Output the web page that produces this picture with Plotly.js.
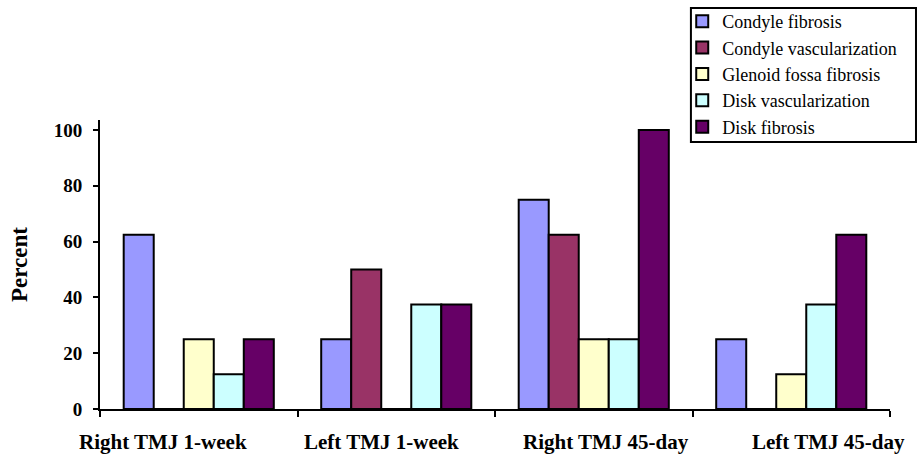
<!DOCTYPE html>
<html>
<head>
<meta charset="utf-8">
<script src="https://cdn.plot.ly/plotly-3.0.1.min.js"></script>
<style>html,body{margin:0;padding:0;background:#fff;}#chart{width:918px;height:457px;}</style>
</head>
<body>
<div id="chart"></div>
<script>
const categories = ["Right TMJ 1-week", "Left TMJ 1-week", "Right TMJ 45-day", "Left TMJ 45-day"];
const seriesNames = ["Condyle fibrosis", "Condyle vascularization", "Glenoid fossa fibrosis", "Disk vascularization", "Disk fibrosis"];
const condyleFibrosis = [62.5, 25, 75, 25];
const condyleVascularization = [0, 50, 62.5, 0];
const glenoidFossaFibrosis = [25, 0, 25, 12.5];
const diskVascularization = [12.5, 37.5, 25, 37.5];
const diskFibrosis = [25, 37.5, 100, 62.5];
const seriesValues = [condyleFibrosis, condyleVascularization, glenoidFossaFibrosis, diskVascularization, diskFibrosis];
const colors = ["#9999FF", "#993366", "#FFFFCC", "#CCFFFF", "#660066"];
const yTicks = [0, 20, 40, 60, 80, 100];
const labelPositions = [0.0797, 0.3557, 0.641, 0.922];

const font = "Liberation Serif, Times New Roman, serif";

const traces = seriesNames.map((name, i) => ({
  type: "bar",
  name: name,
  x: categories,
  y: seriesValues[i],
  marker: {color: colors[i], line: {color: "#000", width: 2}},
  hoverinfo: "skip"
}));

const annotations = categories.map((c, i) => ({
  text: "<b>" + c + "</b>",
  xref: "paper", yref: "paper",
  x: labelPositions[i], y: -0.114,
  xanchor: "center", yanchor: "middle",
  showarrow: false,
  font: {family: font, size: 21, color: "#000"}
}));

const layout = {
  width: 918, height: 457,
  margin: {l: 100, r: 28, t: 120, b: 48, autoexpand: false},
  paper_bgcolor: "#fff", plot_bgcolor: "#fff",
  barmode: "group",
  bargap: 0.24,
  bargroupgap: 0,
  showlegend: true,
  legend: {
    x: 0.737, y: 1.405, xanchor: "left", yanchor: "top",
    borderwidth: 0, bgcolor: "rgba(0,0,0,0)",
    traceorder: "normal",
    font: {family: font, size: 18, color: "#000"}
  },
  shapes: [{
    type: "rect", xref: "paper", yref: "paper",
    x0: 0.748, x1: 1.0329, y0: 0.9239, y1: 1.3875,
    line: {color: "#000", width: 2}, fillcolor: "#fff", layer: "above"
  }],
  xaxis: {
    type: "category",
    showline: true, linecolor: "#000", linewidth: 2,
    ticks: "outside", tickson: "boundaries", ticklen: 6, tickwidth: 2, tickcolor: "#000",
    showticklabels: false, showgrid: false, zeroline: false, fixedrange: true
  },
  yaxis: {
    range: [0, 103.6],
    tickvals: yTicks, ticktext: yTicks.map(v => "<b>" + v + "</b>"),
    showline: true, linecolor: "#000", linewidth: 2,
    ticks: "outside", ticklen: 5, tickwidth: 2, tickcolor: "#000",
    ticklabelstandoff: 7,
    showgrid: false, zeroline: false,
    tickfont: {family: font, size: 19, color: "#000"},
    title: {text: "<b>Percent</b>", font: {family: font, size: 23, color: "#000"}, standoff: 20}
  },
  annotations: annotations
};

Plotly.newPlot("chart", traces, layout, {displayModeBar: false, staticPlot: true});
</script>
</body>
</html>
